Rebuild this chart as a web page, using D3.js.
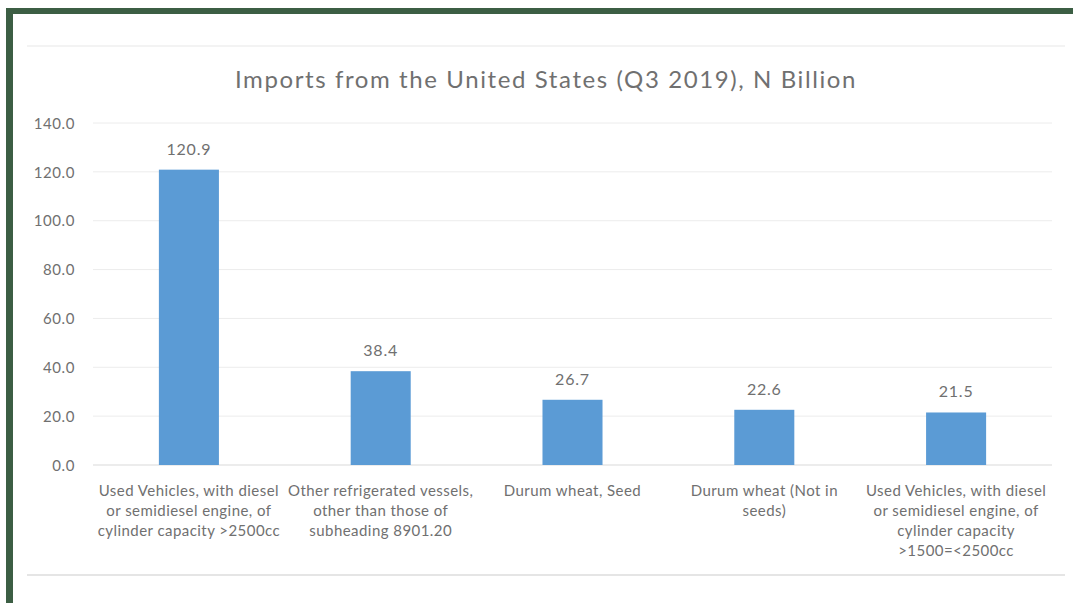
<!DOCTYPE html>
<html>
<head>
<meta charset="utf-8">
<script src="https://cdn.jsdelivr.net/npm/d3@7"></script>
<style>
  body { margin: 0; background: #fff; }
  svg text { font-family: Lato, "Open Sans", sans-serif; fill: #707070; }
</style>
</head>
<body>
<svg id="chart"></svg>
<script>
const categories = [
  "Used Vehicles, with diesel\nor semidiesel engine, of\ncylinder capacity >2500cc",
  "Other refrigerated vessels,\nother than those of\nsubheading 8901.20",
  "Durum wheat, Seed",
  "Durum wheat (Not in\nseeds)",
  "Used Vehicles, with diesel\nor semidiesel engine, of\ncylinder capacity\n>1500=<2500cc"
];
const values = [120.9, 38.4, 26.7, 22.6, 21.5];
const yTicks = [0, 20, 40, 60, 80, 100, 120, 140];
const title = "Imports from the United States (Q3 2019), N Billion";

var width = 1073, height = 603;
var plotLeft = 93, plotRight = 1052, plotTop = 123, plotBottom = 465;

var svg = d3.select("#chart")
  .attr("width", width)
  .attr("height", height);

// green frame (top + left only, image is cropped)
svg.append("rect").attr("x", 6).attr("y", 8).attr("width", width - 6).attr("height", 6).attr("fill", "#3c5e44");
svg.append("rect").attr("x", 6).attr("y", 8).attr("width", 7).attr("height", height - 8).attr("fill", "#3c5e44");

// faint chart area border lines
svg.append("line").attr("x1", 27).attr("x2", 1065).attr("y1", 46).attr("y2", 46)
  .attr("stroke", "#efefef").attr("stroke-width", 1.5);
svg.append("line").attr("x1", 27).attr("x2", 1065).attr("y1", 575).attr("y2", 575)
  .attr("stroke", "#dcdcdc").attr("stroke-width", 1.5);

var x = d3.scaleBand()
  .domain(d3.range(categories.length))
  .range([plotLeft, plotRight])
  .paddingInner(0.687)
  .paddingOuter(0.3435);

var y = d3.scaleLinear()
  .domain([0, 140])
  .range([plotBottom, plotTop]);

// gridlines
svg.append("g")
  .selectAll("line")
  .data(yTicks)
  .enter()
  .append("line")
  .attr("x1", plotLeft).attr("x2", plotRight)
  .attr("y1", d => y(d)).attr("y2", d => y(d))
  .attr("stroke", d => d === 0 ? "#d9d9d9" : "#ececec")
  .attr("stroke-width", 1);

// y axis labels
var yAxis = d3.axisLeft(y).tickValues(yTicks).tickFormat(d3.format(".1f")).tickSize(0).tickPadding(18);
var yg = svg.append("g").attr("transform", "translate(" + plotLeft + ",0)").call(yAxis);
yg.select(".domain").remove();
yg.selectAll("text")
  .style("font-size", "15px")
  .style("letter-spacing", "0.6px")
  .attr("fill", "#707070")
  .attr("dy", "0.35em");

// bars
svg.append("g")
  .selectAll("rect")
  .data(values)
  .enter()
  .append("rect")
  .attr("x", (d, i) => x(i))
  .attr("width", x.bandwidth())
  .attr("y", d => y(d))
  .attr("height", d => y(0) - y(d))
  .attr("fill", "#5b9bd5");

// value labels
svg.append("g")
  .selectAll("text")
  .data(values)
  .enter()
  .append("text")
  .attr("x", (d, i) => x(i) + x.bandwidth() / 2)
  .attr("y", d => y(d) - 15)
  .attr("text-anchor", "middle")
  .style("font-size", "16px")
  .style("letter-spacing", "0.8px")
  .text(d => d3.format(".1f")(d));

// category labels
var cat = svg.append("g")
  .selectAll("text")
  .data(categories)
  .enter()
  .append("text")
  .attr("text-anchor", "middle")
  .style("font-size", "15px")
  .style("letter-spacing", "0.45px")
  .attr("transform", (d, i) => "translate(" + (x(i) + x.bandwidth() / 2) + "," + 496 + ")");

cat.selectAll("tspan")
  .data(d => d.split("\n"))
  .enter()
  .append("tspan")
  .attr("x", 0)
  .attr("y", (d, i) => i * 20)
  .text(d => d);

// title
svg.append("text")
  .attr("x", 546)
  .attr("y", 88)
  .attr("text-anchor", "middle")
  .style("font-size", "24px")
  .style("letter-spacing", "1.6px")
  .attr("fill", "#666666")
  .text(title);
</script>
</body>
</html>
